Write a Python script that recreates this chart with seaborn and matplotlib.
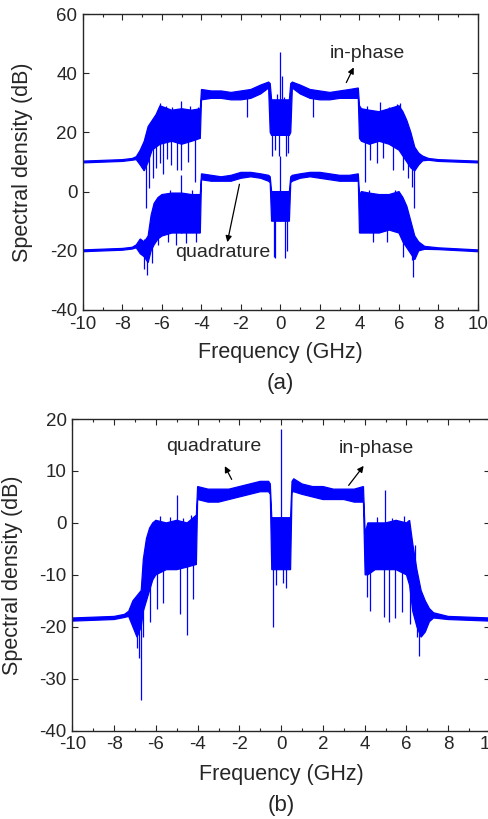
import numpy as np
import pandas as pd
import matplotlib
matplotlib.use("Agg")
import matplotlib.pyplot as plt
from matplotlib.ticker import MultipleLocator
import seaborn as sns

# ---------------- panel (a): envelopes ----------------
freq_a_ip = [-10, -8, -7.5, -7.3, -7.1, -6.9, -6.7, -6.5, -6.3, -6.1, -5.5, -5.0, -4.5, -4.06,
             -4.0, -3.5, -3.0, -2.5, -2.0, -1.5, -1.0, -0.6, -0.52, -0.45, 0.45, 0.52, 0.6,
             1.0, 1.5, 2.0, 2.5, 3.0, 3.5, 3.94, 4.0, 4.1, 4.5, 5.0, 5.5, 6.0, 6.2, 6.4,
             6.6, 6.8, 7.0, 7.2, 7.5, 8, 10]
upper_a_ip = [10.3, 10.8, 11.2, 11.8, 14, 17, 22, 24, 26, 29, 27.5, 28, 27.5, 28,
              34.5, 34, 34, 33.5, 34, 34.5, 36, 37, 36.5, 31, 31, 36.5, 37,
              36, 34.5, 34, 33.5, 34, 34.5, 35, 29, 28, 27.5, 27, 28, 29, 27, 24,
              20, 15, 13, 12, 11.2, 10.8, 10.3]
lower_a_ip = [9.7, 10.2, 10.6, 10.8, 9, 7, 10, 14, 15, 16, 17, 16, 17, 18,
              31, 31.5, 31.5, 31, 31, 31.5, 33, 35, 20, 19, 19, 20, 35,
              33, 31.5, 31, 31, 31.5, 31.5, 31.5, 18, 17, 16, 17, 16, 14, 12, 10,
              8, 7, 9, 10.4, 10.6, 10.2, 9.7]

freq_a_q = [-10, -8, -7.5, -7.3, -7.1, -6.9, -6.7, -6.55, -6.4, -6.2, -6.0, -5.5, -5.0, -4.5,
            -4.06, -4.0, -3.5, -3.0, -2.5, -2.0, -1.5, -1.0, -0.6, -0.52, -0.45, 0.45, 0.52,
            0.6, 1.0, 1.5, 2.0, 2.5, 3.0, 3.5, 3.94, 4.0, 4.1, 4.5, 5.0, 5.5, 6.0, 6.2,
            6.4, 6.6, 6.8, 7.0, 7.3, 8, 10]
upper_a_q = [-19.7, -19.2, -18.8, -18, -16, -17, -15, -8, -4, -2, -1, -0.5, -0.5, -1,
             -1, 6, 5.5, 5, 5.5, 6.5, 6.5, 6, 5.5, 5, 0, 0, 5,
             5.5, 6, 6.5, 6.5, 6, 5.5, 5.5, 6, -1, 0, -0.5, -1, -1, 0, -2,
             -5, -10, -15, -17, -18.5, -19, -19.7]
lower_a_q = [-20.3, -19.8, -19.4, -19, -21, -22, -24, -20, -18, -16, -15, -14, -14, -14,
             -14, 4, 3.5, 3.5, 3.5, 4.5, 5, 4.5, 3.5, 3, -10, -10, 3,
             3.5, 4.5, 5, 4.5, 4, 3.5, 3.5, 3.5, -14, -14, -14, -14, -13, -14, -17,
             -19, -21, -23, -20, -19.5, -19.6, -20.3]

# spikes (frequency, low end, high end)
spike_f_a_ip = [-6.81, -6.64, -6.46, -6.3, -6.1, -5.95, -5.75, -5.55, -5.26, -5.05, -4.7, -4.33,
                -6.1, -5.04, -5.8, -5.5, -4.6, -4.2, -1.71, 1.65,
                -0.42, -0.3, -0.1, 0.0, 0.06, 0.3, 0.4, -0.2, 0.2,
                4.28, 4.53, 4.87, 5.2, 5.71, 6.22, 6.47, 6.64, 6.76, 5.04, 6.05, 4.4, 5.5, 5.9]
spike_lo_a_ip = [-5.5, 1.2, 4.5, 8, 9.6, 6, 11, 9, 7.3, 7.3, 10, 3.4,
                 16, 17, 18, 18, 18, 18, 25.3, 25.3,
                 12, 14, 12, 20, 20, 12, 13, 20, 20,
                 3.4, 10.7, 9.6, 11.2, 7.3, 7.3, 4.5, 1.7, -5.6, 17, 17, 17, 17, 17]
spike_hi_a_ip = [12, 14, 16, 16, 17, 17, 17, 17, 17, 17, 17, 18,
                 30, 30.6, 29, 28.5, 29, 28.5, 32, 32,
                 25, 25, 25, 47, 39, 25, 25, 33, 32,
                 18, 17, 17, 17, 16, 15, 12, 10, 8, 30.4, 29.9, 29, 28.5, 29.5]

spike_f_a_q = [-6.91, -6.74, -6.52, -6.2, -5.7, -5.3, -4.8, -4.3, -5.05, -0.35, -0.28, 0.0,
               0.23, 0.35, 4.7, 5.0, 5.4, 6.22, 6.47, 6.64, 6.71, -5.6, -4.5, 4.5, 5.8]
spike_lo_a_q = [-26, -28.2, -24, -18, -17, -18, -17.5, -17, -14, -22, -22.5, -10,
                -22.5, -20, -16.9, -13, -17, -22, -18, -23, -29, -10, -10, -10, -10]
spike_hi_a_q = [-16, -16, -10, -10, -10, -10, -10, -10, 5.6, -5, -5, 12,
                -5, -5, -10, -10, -10, -15, -12, -15, -17, 0.5, 0.5, 0.5, 0.5]

# ---------------- panel (b) ----------------
freq_b = [-10, -8, -7.5, -7.3, -7.1, -6.9, -6.7, -6.6, -6.45, -6.3, -6.15, -6.0, -5.5, -5.0,
          -4.5, -4.06, -4.0, -3.5, -3.0, -2.5, -2.0, -1.5, -1.0, -0.6, -0.52, -0.45, 0.45,
          0.52, 0.6, 1.0, 1.5, 2.0, 2.5, 3.0, 3.5, 3.94, 4.02, 4.15, 4.5, 5.0, 5.5, 6.0,
          6.15, 6.3, 6.5, 6.7, 6.9, 7.1, 7.3, 8, 10]
upper_b = [-18.3, -18.0, -17.6, -17.0, -15, -14, -13, -7, -3, -1, 0, 0.5, 0, 0.5,
           0, 1.5, 7, 6.5, 6.5, 6.5, 7, 7.5, 8, 8, 7.5, 1, 1,
           8, 8.5, 7.5, 7, 7, 6.5, 6.5, 6.5, 7, -2, 0, 0, 0, 0.5, 0,
           0.5, -4, -9, -13, -15, -16.5, -17.3, -18, -18.3]
lower_b = [-18.9, -18.6, -18.2, -18.0, -20, -22, -20, -17, -15, -13, -11, -10, -9, -9,
           -8.5, -8, 4.5, 4, 4, 4.5, 5, 5.5, 6, 6, 5.5, -9, -9,
           6, 6, 5.5, 5, 4.5, 4.5, 4.5, 4, 4, -10, -10, -9, -9, -9, -10,
           -12, -17, -20, -22, -21, -19, -18.3, -18.6, -18.9]

spike_f_b = [-6.9, -6.8, -6.71, -6.6, -6.28, -5.96, -5.64, -4.84, -4.52, -4.2, -5.0,
             -5.8, -5.3, -4.7, -4.3,
             -0.37, -0.25, 0.1, 0.25, 0.0,
             4.1, 4.26, 4.9, 5.14, 5.46, 5.78, 6.18, 6.5, 6.61, 4.98, 6.42, 4.6, 5.3, 5.9]
spike_lo_b = [-24, -26, -34, -22, -19.1, -16.5, -15.5, -17.5, -21.5, -14.6, -5,
              -5, -5, -5, -5,
              -20, -12, -11.5, -12.5, -5,
              -14.3, -16.9, -18.2, -19.1, -18.4, -17.2, -19.4, -22, -25.6, -5, -12, -5, -5, -5]
spike_hi_b = [-16, -15, -15, -10, -8, -6, -6, -6, -6, -6, 5.3,
              1.3, 1.2, 1.0, 1.5,
              -8, -5, -5, -5, 18,
              -5, -6, -6, -6, -6, -6, -8, -18, -18, 6.3, -4.3, 1.2, 1.0, 1.4]

blue = "#0000ff"

sns.set_style("ticks")
plt.rcParams["font.family"] = ["Liberation Sans", "DejaVu Sans"]
plt.rcParams["axes.unicode_minus"] = False

fig = plt.figure(figsize=(4.89, 8.19), dpi=100)
ax_a = fig.add_axes([0.1697, 0.6215, 0.8078, 0.3614])
ax_b = fig.add_axes([0.1479, 0.1078, 0.8542, 0.3806])


def draw_curve(ax, f, up, lo, sf, slo, shi):
    df = pd.DataFrame({"f": f, "up": up, "lo": lo})
    # closed outline: upper edge left->right, lower edge right->left
    xs = np.concatenate([df["f"].to_numpy(), df["f"].to_numpy()[::-1]])
    ys = np.concatenate([df["up"].to_numpy(), df["lo"].to_numpy()[::-1]])
    ax.fill(xs, ys, facecolor=blue, edgecolor=blue, linewidth=0.9)
    ax.vlines(sf, slo, shi, color=blue, lw=0.9)


draw_curve(ax_a, freq_a_ip, upper_a_ip, lower_a_ip, spike_f_a_ip, spike_lo_a_ip, spike_hi_a_ip)
draw_curve(ax_a, freq_a_q, upper_a_q, lower_a_q, spike_f_a_q, spike_lo_a_q, spike_hi_a_q)
draw_curve(ax_b, freq_b, upper_b, lower_b, spike_f_b, spike_lo_b, spike_hi_b)

ax_a.set_ylim(-40, 60)
ax_a.yaxis.set_major_locator(MultipleLocator(20))
ax_b.set_ylim(-40, 20)
ax_b.yaxis.set_major_locator(MultipleLocator(10))

for ax in (ax_a, ax_b):
    ax.set_xlim(-10, 10)
    ax.xaxis.set_major_locator(MultipleLocator(2))
    ax.xaxis.set_minor_locator(MultipleLocator(1))
    ax.tick_params(which="both", direction="in", top=True, right=True, labelsize=13.5,
                   width=0.8)
    ax.tick_params(which="major", length=4, pad=4)
    ax.tick_params(which="minor", length=2.5)
    for s in ax.spines.values():
        s.set_linewidth(1.0)
    ax.set_xlabel("Frequency (GHz)", fontsize=15.5)
    ax.set_ylabel("Spectral density (dB)", fontsize=15.5)
    ax.xaxis.label.set_va("center")
    ax.yaxis.label.set_va("center")

ax_a.xaxis.set_label_coords(0.5, -0.145)
ax_a.yaxis.set_label_coords(-0.154, 0.5)
ax_b.xaxis.set_label_coords(0.5, -0.142)
ax_b.yaxis.set_label_coords(-0.144, 0.5)

ax_a.text(0.5, -0.247, "(a)", transform=ax_a.transAxes, ha="center", va="center", fontsize=16)
ax_b.text(0.5, -0.24, "(b)", transform=ax_b.transAxes, ha="center", va="center", fontsize=16)

arrow = dict(arrowstyle="-|>", color="black", lw=0.9, mutation_scale=9)
ax_a.annotate("", xy=(3.77, 42.8), xytext=(3.27, 36), arrowprops=arrow)
ax_a.text(4.38, 46.8, "in-phase", ha="center", va="center", fontsize=14)
ax_a.annotate("", xy=(-2.72, -18), xytext=(-2.05, 3.4), arrowprops=arrow)
ax_a.text(-2.9, -20.7, "quadrature", ha="center", va="center", fontsize=14)

ax_b.annotate("", xy=(-2.76, 11.4), xytext=(-2.31, 7.9), arrowprops=arrow)
ax_b.text(-3.24, 14.65, "quadrature", ha="center", va="center", fontsize=14)
ax_b.annotate("", xy=(4.03, 11.4), xytext=(3.15, 6.8), arrowprops=arrow)
ax_b.text(4.58, 14.3, "in-phase", ha="center", va="center", fontsize=14)

fig.savefig("out.png", dpi=100)
